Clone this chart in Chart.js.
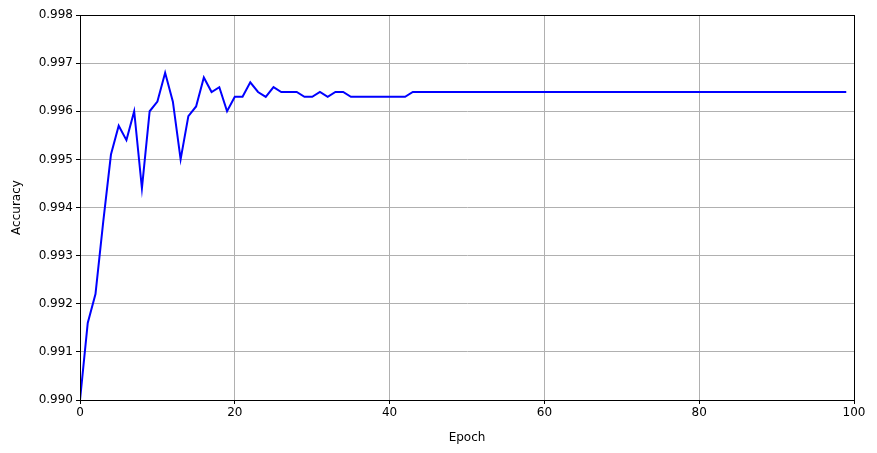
<!DOCTYPE html>
<html>
<head>
<meta charset="utf-8">
<script src="https://cdn.jsdelivr.net/npm/chart.js@4"></script>
<style>
  html, body { margin: 0; padding: 0; background: #fff; }
  #wrap { width: 877px; height: 453px; }
</style>
</head>
<body>
<div id="wrap"><canvas id="accChart" width="877" height="453"></canvas></div>
<script>
// accuracy per epoch
const accuracy = [
  0.9900, 0.9916, 0.9922, 0.9937, 0.9951, 0.9957, 0.9954, 0.9960, 0.9944, 0.9960,
  0.9962, 0.9968, 0.9962, 0.9950, 0.9959, 0.9961, 0.9967, 0.9964, 0.9965, 0.9960,
  0.9963, 0.9963, 0.9966, 0.9964, 0.9963, 0.9965, 0.9964, 0.9964, 0.9964, 0.9963,
  0.9963, 0.9964, 0.9963, 0.9964, 0.9964, 0.9963, 0.9963, 0.9963, 0.9963, 0.9963,
  0.9963, 0.9963, 0.9963, 0.9964, 0.9964, 0.9964, 0.9964, 0.9964, 0.9964, 0.9964,
  0.9964, 0.9964, 0.9964, 0.9964, 0.9964, 0.9964, 0.9964, 0.9964, 0.9964, 0.9964,
  0.9964, 0.9964, 0.9964, 0.9964, 0.9964, 0.9964, 0.9964, 0.9964, 0.9964, 0.9964,
  0.9964, 0.9964, 0.9964, 0.9964, 0.9964, 0.9964, 0.9964, 0.9964, 0.9964, 0.9964,
  0.9964, 0.9964, 0.9964, 0.9964, 0.9964, 0.9964, 0.9964, 0.9964, 0.9964, 0.9964,
  0.9964, 0.9964, 0.9964, 0.9964, 0.9964, 0.9964, 0.9964, 0.9964, 0.9964, 0.9964
];
const epochs = accuracy.map((_, i) => i);

const xTicks = [0, 20, 40, 60, 80, 100];
const yTicks = [0.990, 0.991, 0.992, 0.993, 0.994, 0.995, 0.996, 0.997, 0.998];

Chart.defaults.font.family = "'DejaVu Sans', sans-serif";
Chart.defaults.font.size = 12;
Chart.defaults.color = '#000';

// top/right spines like matplotlib
const frame = {
  id: 'frame',
  afterDraw(chart) {
    const { ctx, chartArea: a } = chart;
    ctx.save();
    ctx.strokeStyle = '#000';
    ctx.lineWidth = 1;
    ctx.strokeRect(Math.round(a.left) + 0.5, Math.round(a.top) + 0.5,
      Math.round(a.right - a.left), Math.round(a.bottom - a.top));
    ctx.restore();
  }
};

new Chart(document.getElementById('accChart'), {
  type: 'line',
  data: {
    datasets: [{
      data: epochs.map((e, i) => ({ x: e, y: accuracy[i] })),
      borderColor: '#0000ff',
      borderWidth: 2,
      pointRadius: 0,
      tension: 0,
      fill: false
    }]
  },
  options: {
    responsive: false,
    animation: false,
    layout: { padding: { top: 15, right: 23, left: 0, bottom: 0 } },
    plugins: { legend: { display: false }, tooltip: { enabled: false } },
    scales: {
      x: {
        type: 'linear',
        min: 0,
        max: 100,
        afterBuildTicks: axis => { axis.ticks = xTicks.map(v => ({ value: v })); },
        afterFit: axis => { axis.height = 53; },
        ticks: { padding: 2, maxRotation: 0 },
        grid: { color: '#b0b0b0', tickColor: '#000', tickLength: 4, lineWidth: 1 },
        border: { color: '#000' },
        title: { display: true, text: 'Epoch', padding: { top: 4, bottom: 8 } }
      },
      y: {
        type: 'linear',
        min: 0.990,
        max: 0.998,
        afterBuildTicks: axis => { axis.ticks = yTicks.map(v => ({ value: v })); },
        afterFit: axis => { axis.width = 80; },
        ticks: { padding: 3, callback: v => v.toFixed(3) },
        grid: { color: '#b0b0b0', tickColor: '#000', tickLength: 4, lineWidth: 1 },
        border: { color: '#000' },
        title: { display: true, text: 'Accuracy', padding: { top: 10, bottom: 4 } }
      }
    }
  },
  plugins: [frame]
});
</script>
</body>
</html>
